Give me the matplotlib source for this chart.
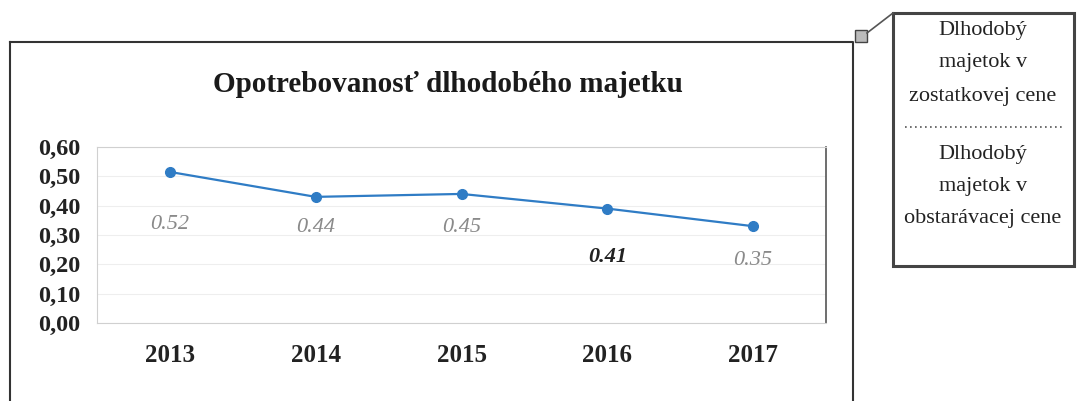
import matplotlib
matplotlib.use("Agg")
import matplotlib.pyplot as plt
from matplotlib.patches import Rectangle
from matplotlib.lines import Line2D

# data
years = ["2013", "2014", "2015", "2016", "2017"]
values = [0.515, 0.43, 0.44, 0.39, 0.33]
value_labels = ["0.52", "0.44", "0.45", "0.41", "0.35"]
yticks = [0.0, 0.1, 0.2, 0.3, 0.4, 0.5, 0.6]
ytick_labels = ["0,00", "0,10", "0,20", "0,30", "0,40", "0,50", "0,60"]
title = "Opotrebovanosť dlhodobého majetku"
box_top = ["Dlhodobý", "majetok v", "zostatkovej cene"]
box_bottom = ["Dlhodobý", "majetok v", "obstarávacej cene"]

# label styling (offsets in points below each marker)
label_offsets = [-38, -22, -24, -35, -25]
label_colors = ["#8a8a8a", "#8a8a8a", "#8a8a8a", "#222222", "#8a8a8a"]
label_weights = ["normal", "normal", "normal", "bold", "normal"]

W, H = 1077, 401
SERIF = ["Liberation Serif", "DejaVu Serif"]
BLUE = "#2f7cc5"

fig = plt.figure(figsize=(W / 100, H / 100), dpi=100)
fig.patch.set_facecolor("white")

def px(x0, y0, x1, y1):
    # pixel box (top-left origin) -> figure fraction rect
    return [x0 / W, 1 - y1 / H, (x1 - x0) / W, (y1 - y0) / H]

# outer frame and legend-like formula box
over = fig.add_axes([0, 0, 1, 1])
over.set_xlim(0, W)
over.set_ylim(H, 0)
over.axis("off")
over.add_line(Line2D([10, 853, 853], [42, 42, 401], color="#333333", lw=1.5))
over.add_line(Line2D([10, 10], [42, 401], color="#333333", lw=1.5))
over.add_patch(Rectangle((855, 30), 12, 12, facecolor="#bbbbbb", edgecolor="#444444", lw=1))
over.add_line(Line2D([867, 893], [33, 13], color="#555555", lw=1.2))
over.add_patch(Rectangle((893, 13), 181, 253, facecolor="white", edgecolor="#444444", lw=2.2))
for i, t in enumerate(box_top):
    over.text(983, 30 + i * 33, t, ha="center", va="center", family=SERIF,
              fontsize=16, color="#222222")
over.add_line(Line2D([905, 1063], [127, 127], color="#555555", lw=1.2, ls=(0, (1, 2))))
for i, t in enumerate(box_bottom):
    over.text(983, 155 + i * 32, t, ha="center", va="center", family=SERIF,
              fontsize=16, color="#222222")

over.text(448, 84, title, ha="center", va="center", family=SERIF,
          fontsize=21, fontweight="bold", color="#1a1a1a")

ax = fig.add_axes(px(97, 147, 826, 323))
x = list(range(len(years)))
ax.plot(x, values, color=BLUE, lw=1.6, marker="o", markersize=7, zorder=3)
for xi, v, lab, off, c, w in zip(x, values, value_labels, label_offsets, label_colors, label_weights):
    ax.annotate(lab, (xi, v), xytext=(0, off), textcoords="offset points",
                ha="center", va="center", family=SERIF, fontsize=16,
                style="italic", color=c, fontweight=w)

ax.set_xlim(-0.5, len(years) - 0.5)
ax.set_ylim(0, 0.6)
ax.set_xticks(x)
ax.set_xticklabels(years, family=SERIF, fontsize=18, fontweight="bold", color="#222222")
ax.set_yticks(yticks)
ax.set_yticklabels(ytick_labels, family=SERIF, fontsize=17.5, fontweight="bold", color="#222222")
ax.tick_params(axis="both", length=0)
ax.tick_params(axis="y", pad=12)
ax.tick_params(axis="x", pad=15)
ax.grid(axis="y", color="#eeeeee", lw=0.8)
ax.set_axisbelow(True)
for s in ax.spines.values():
    s.set_color("#d0d0d0")
ax.spines["right"].set_color("#555555")
ax.spines["right"].set_linewidth(1.2)

fig.savefig("out.png", dpi=100)
